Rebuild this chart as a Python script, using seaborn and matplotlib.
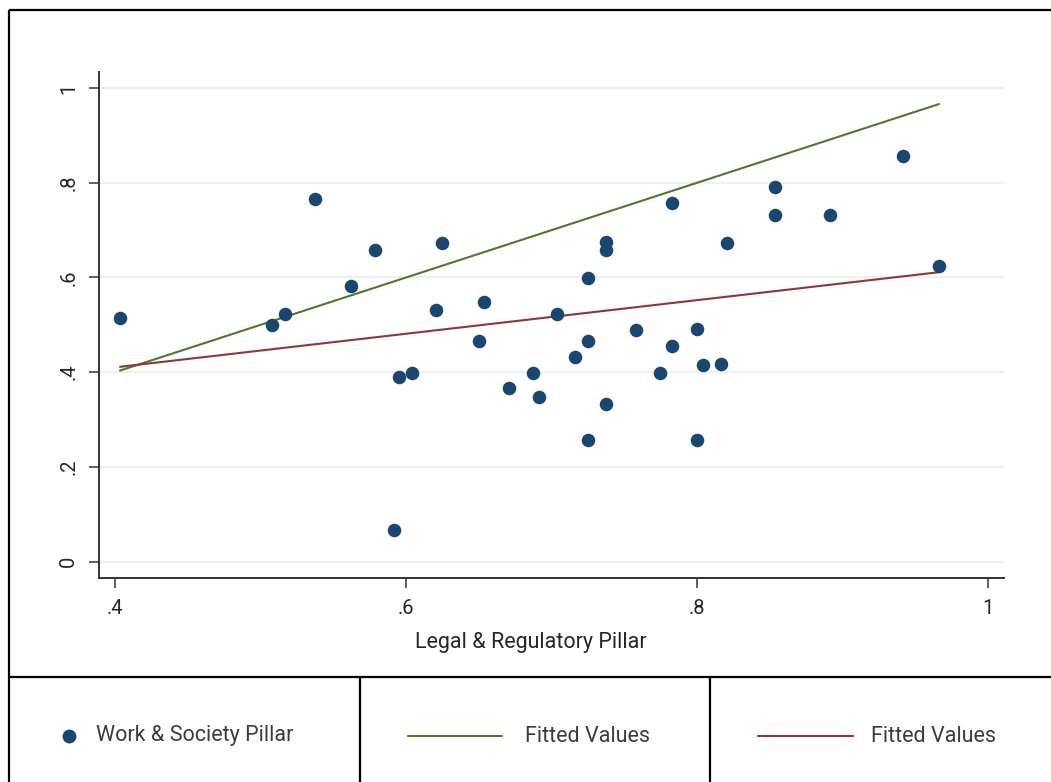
import numpy as np
import pandas as pd
import matplotlib
matplotlib.use("Agg")
import matplotlib.pyplot as plt
from matplotlib.lines import Line2D
import seaborn as sns

# Pillar scores per country
legal = [0.4034, 0.5079, 0.5168, 0.5374, 0.5621, 0.5786, 0.5951, 0.6040,
         0.5917, 0.6205, 0.6247, 0.6501, 0.6535, 0.6707, 0.6872, 0.6913,
         0.7037, 0.7160, 0.7250, 0.7250, 0.7250, 0.7373, 0.7373, 0.7373,
         0.7580, 0.7744, 0.7827, 0.7827, 0.7999, 0.7999, 0.8040, 0.8164,
         0.8205, 0.8535, 0.8535, 0.8912, 0.9414, 0.9661]
work = [0.5145, 0.4997, 0.5230, 0.7650, 0.5820, 0.6580, 0.3900, 0.3980,
        0.0665, 0.5310, 0.6725, 0.4660, 0.5480, 0.3670, 0.3980, 0.3480,
        0.5230, 0.4320, 0.5990, 0.4660, 0.2570, 0.6745, 0.6580, 0.3330,
        0.4890, 0.3980, 0.7570, 0.4555, 0.4910, 0.2570, 0.4155, 0.4175,
        0.6725, 0.7910, 0.7320, 0.7320, 0.8560, 0.6240]

x_ticks = [0.4, 0.6, 0.8, 1.0]
x_tick_labels = [".4", ".6", ".8", "1"]
y_ticks = [0.0, 0.2, 0.4, 0.6, 0.8, 1.0]
y_tick_labels = ["0", ".2", ".4", ".6", ".8", "1"]
legend_labels = ["Work & Society Pillar", "Fitted Values", "Fitted Values"]

df = pd.DataFrame({"legal": legal, "work": work})

NAVY = "#1a476f"
GREEN = "#55752f"
MAROON = "#90353b"
GRID = "#eaf2f3"
AXIS = "#333333"
TEXT = "#3c3c3c"
TICKTXT = "#262626"

sns.set_theme(style="white")
plt.rcParams["font.family"] = ["Roboto", "DejaVu Sans"]

W, H = 1051, 782
fig = plt.figure(figsize=(W / 100, H / 100), dpi=100)
fig.patch.set_facecolor("white")

ax = fig.add_axes([99 / W, 1 - 577.7 / H, (1004 - 99) / W, (577.7 - 72) / H])
ax.set_facecolor("white")

# reference line of the x variable on itself, and the linear fit of work on legal
sns.regplot(data=df, x="legal", y="legal", scatter=False, ci=None, truncate=True,
            color=GREEN, line_kws={"lw": 1.5, "zorder": 3}, ax=ax)
sns.regplot(data=df, x="legal", y="work", scatter=False, ci=None, truncate=True,
            color=MAROON, line_kws={"lw": 1.5, "zorder": 3}, ax=ax)
sns.scatterplot(data=df, x="legal", y="work", color=NAVY, s=95, linewidth=0,
                zorder=4, ax=ax)

ax.set_xlim(0.389, 1.0108)
ax.set_ylim(-0.0338, 1.0338)
ax.set_xticks(x_ticks)
ax.set_xticklabels(x_tick_labels)
ax.set_yticks(y_ticks)
ax.set_yticklabels(y_tick_labels, rotation=90, va="center")
for y in y_ticks:
    ax.axhline(y, color=GRID, lw=1.6, zorder=1)

for side in ["top", "right"]:
    ax.spines[side].set_visible(False)
for side in ["left", "bottom"]:
    ax.spines[side].set_color(AXIS)
    ax.spines[side].set_linewidth(1.4)
ax.tick_params(axis="both", direction="out", length=7, width=1.1, color=AXIS,
               labelsize=14.5, labelcolor=TICKTXT, pad=8)
ax.tick_params(axis="both", bottom=True, left=True)
ax.set_xlabel("Legal & Regulatory Pillar", fontsize=15.5, color=TICKTXT)
ax.xaxis.set_label_coords(0.477, -0.108)
ax.set_ylabel("")

# outer frame and the legend cells
def fline(x0, y0, x1, y1, lw=1.6):
    fig.add_artist(Line2D([x0 / W, x1 / W], [1 - y0 / H, 1 - y1 / H],
                          color="black", lw=lw, solid_capstyle="butt"))

fline(9, 10, W + 5, 10)
fline(9, 10, 9, H + 5)
fline(9, 677, W + 5, 677)
fline(359.5, 677, 359.5, H + 5)
fline(710, 677, 710, H + 5)

ly = 1 - 736 / H
fig.add_artist(Line2D([69 / W], [ly], marker="o", markersize=10, color=NAVY,
                      markeredgewidth=0, linestyle="none"))
fig.add_artist(Line2D([408 / W, 502 / W], [ly, ly], color=GREEN, lw=1.5))
fig.add_artist(Line2D([758 / W, 853 / W], [ly, ly], color=MAROON, lw=1.5))
for xpos, label in zip([96, 525, 871], legend_labels):
    fig.text(xpos / W, ly, label, fontsize=15.5, color=TEXT, va="center",
             ha="left")

fig.savefig("out.png", dpi=100, facecolor="white")
